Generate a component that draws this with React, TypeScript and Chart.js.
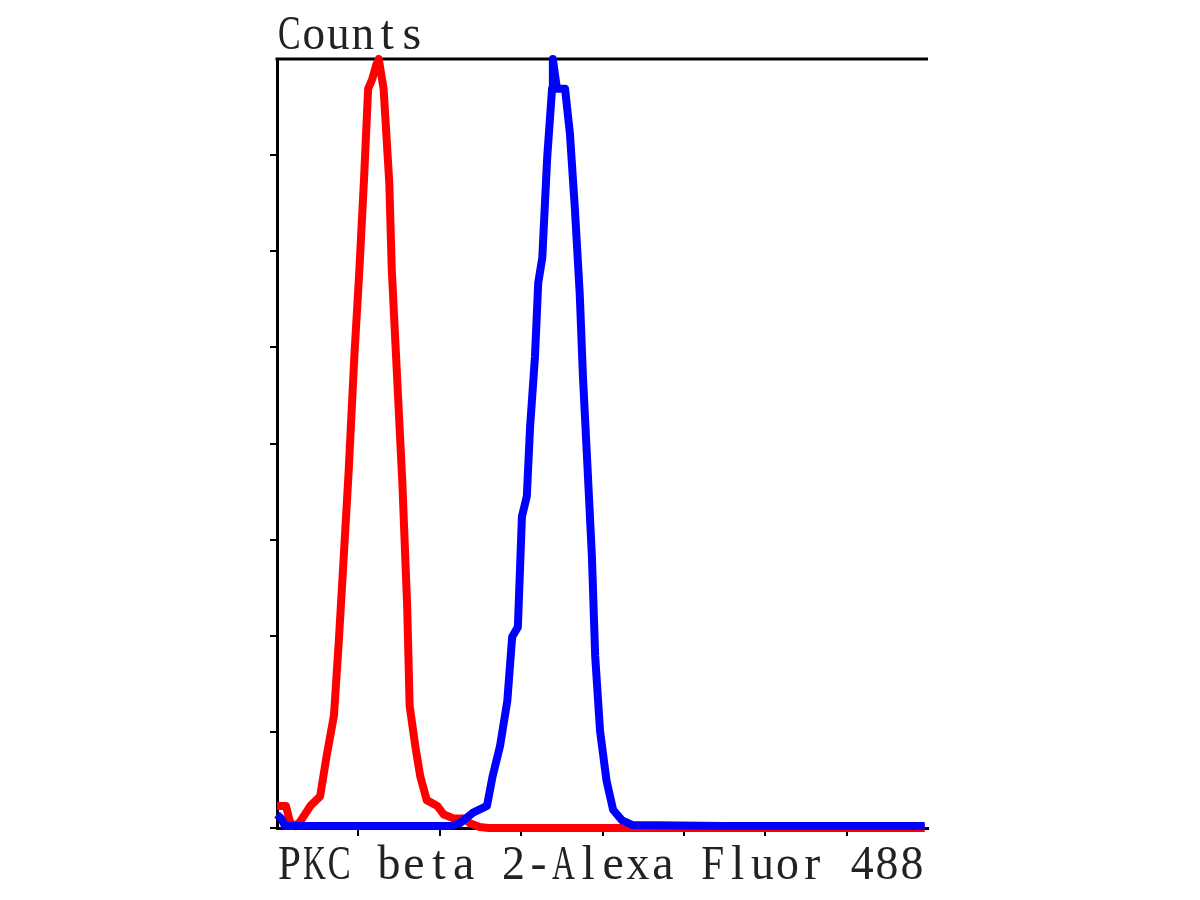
import React, { useEffect, useRef } from "react";
import { Chart, registerables } from "chart.js";

Chart.register(...registerables);

// Channel positions (axis units 0..8) and counts (axis units 0..8)
const redX = [0, 0.05, 0.11, 0.16, 0.22, 0.28, 0.41, 0.53, 0.61, 0.70, 0.76, 0.82, 0.88, 0.95, 1.01, 1.07, 1.12, 1.17, 1.22, 1.25, 1.31, 1.38, 1.41, 1.47, 1.54, 1.60, 1.63, 1.70, 1.76, 1.84, 1.97, 2.05, 2.17, 2.30, 2.37, 2.49, 2.6, 4.0, 6.0, 7.96];
const redY = [0.23, 0.23, 0.23, 0.06, 0.02, 0.06, 0.23, 0.33, 0.75, 1.17, 1.95, 2.82, 3.70, 4.90, 5.77, 6.76, 7.69, 7.79, 7.94, 8.0, 7.69, 6.71, 5.82, 4.79, 3.60, 2.30, 1.27, 0.85, 0.54, 0.29, 0.23, 0.14, 0.10, 0.10, 0.05, 0.01, 0, 0, 0, 0];

const blueX = [0, 0.05, 0.10, 1.0, 2.13, 2.25, 2.41, 2.58, 2.65, 2.74, 2.83, 2.89, 2.96, 3.01, 3.07, 3.11, 3.17, 3.21, 3.26, 3.32, 3.38, 3.39, 3.44, 3.54, 3.60, 3.66, 3.72, 3.76, 3.81, 3.87, 3.91, 3.97, 4.05, 4.13, 4.24, 4.37, 5.5, 7.96];
const blueY = [0.14, 0.10, 0.02, 0.02, 0.02, 0.05, 0.16, 0.23, 0.54, 0.85, 1.32, 1.99, 2.09, 3.24, 3.45, 4.17, 4.90, 5.67, 5.93, 6.97, 7.69, 8.0, 7.69, 7.69, 7.22, 6.45, 5.56, 4.69, 3.85, 2.82, 1.79, 1.01, 0.49, 0.19, 0.08, 0.03, 0.02, 0.02];

const xTicks = [1, 2, 3, 4, 5, 6, 7];
const yTicks = [0, 1, 2, 3, 4, 5, 6, 7];

const yTitle = "Counts";
const xTitle = "PKC beta 2-Alexa Fluor 488";

const toPoints = (xs: number[], ys: number[]) => xs.map((x, i) => ({ x, y: ys[i] }));

const textPlugin = {
  id: "framesAndTitles",
  beforeDatasetsDraw(chart: any) {
    const { ctx, chartArea } = chart;
    ctx.save();
    ctx.strokeStyle = "#000";
    ctx.lineWidth = 3;
    ctx.beginPath();
    ctx.moveTo(chartArea.left - 1.5, chartArea.top);
    ctx.lineTo(chartArea.right, chartArea.top);
    ctx.stroke();
    ctx.restore();
  },
  afterDraw(chart: any) {
    const { ctx, chartArea } = chart;
    const drawMono = (t: string, x0: number, y: number, cell: number) => {
      ctx.save();
      ctx.font = "48px 'Liberation Serif'";
      ctx.fillStyle = "#222";
      ctx.textBaseline = "alphabetic";
      ctx.textAlign = "center";
      for (let i = 0; i < t.length; i++) {
        const ch = t[i];
        if (ch === " ") continue;
        const w = ctx.measureText(ch).width;
        const sx = Math.min(1, (cell * 0.92) / w);
        ctx.save();
        ctx.translate(x0 + cell * (i + 0.5), y);
        ctx.scale(sx, 1);
        ctx.fillText(ch, 0, 0);
        ctx.restore();
      }
      ctx.restore();
    };
    drawMono(yTitle, chartArea.left, 49, 24.5);
    drawMono(xTitle, chartArea.left, 879, 24.9);
  },
};

export default function App() {
  const ref = useRef<HTMLCanvasElement | null>(null);
  useEffect(() => {
    if (!ref.current) return;
    const tickColor = (vals: number[]) => (c: any) =>
      c.tick && vals.includes(Math.round(c.tick.value * 1000) / 1000) ? "#000" : "rgba(0,0,0,0)";
    const chart = new Chart(ref.current, {
      type: "line",
      data: {
        datasets: [
          {
            label: "PKC beta 2",
            data: toPoints(blueX, blueY),
            borderColor: "#0000ff",
            borderWidth: 8,
            pointRadius: 0,
            tension: 0,
            fill: false,
            clip: false as any,
            borderJoinStyle: "round",
          },
          {
            label: "Control",
            data: toPoints(redX, redY),
            borderColor: "#ff0000",
            borderWidth: 8,
            pointRadius: 0,
            tension: 0,
            fill: false,
            clip: false as any,
            borderJoinStyle: "round",
          },
        ],
      },
      options: {
        animation: false,
        responsive: true,
        maintainAspectRatio: false,
        layout: { padding: { top: 59, right: 272, left: 0, bottom: 0 } },
        plugins: { legend: { display: false }, tooltip: { enabled: false }, title: { display: false } },
        scales: {
          x: {
            type: "linear",
            min: 0,
            max: 8,
            ticks: { stepSize: 1, display: false },
            grid: { drawOnChartArea: false, drawTicks: true, tickLength: 8, lineWidth: 2, color: tickColor(xTicks) },
            border: { display: true, color: "#000", width: 3 },
            afterFit: (s: any) => { s.height = 72; },
          },
          y: {
            type: "linear",
            min: 0,
            max: 8,
            ticks: { stepSize: 1, display: false },
            grid: { drawOnChartArea: false, drawTicks: true, tickLength: 7, lineWidth: 2, color: tickColor(yTicks) },
            border: { display: true, color: "#000", width: 3 },
            afterFit: (s: any) => { s.width = 277; },
          },
        },
      } as any,
      plugins: [textPlugin],
    });
    return () => chart.destroy();
  }, []);
  return (
    <div style={{ position: "absolute", left: 0, top: 0, width: 1200, height: 900, background: "#fff" }}>
      <canvas ref={ref} />
    </div>
  );
}
